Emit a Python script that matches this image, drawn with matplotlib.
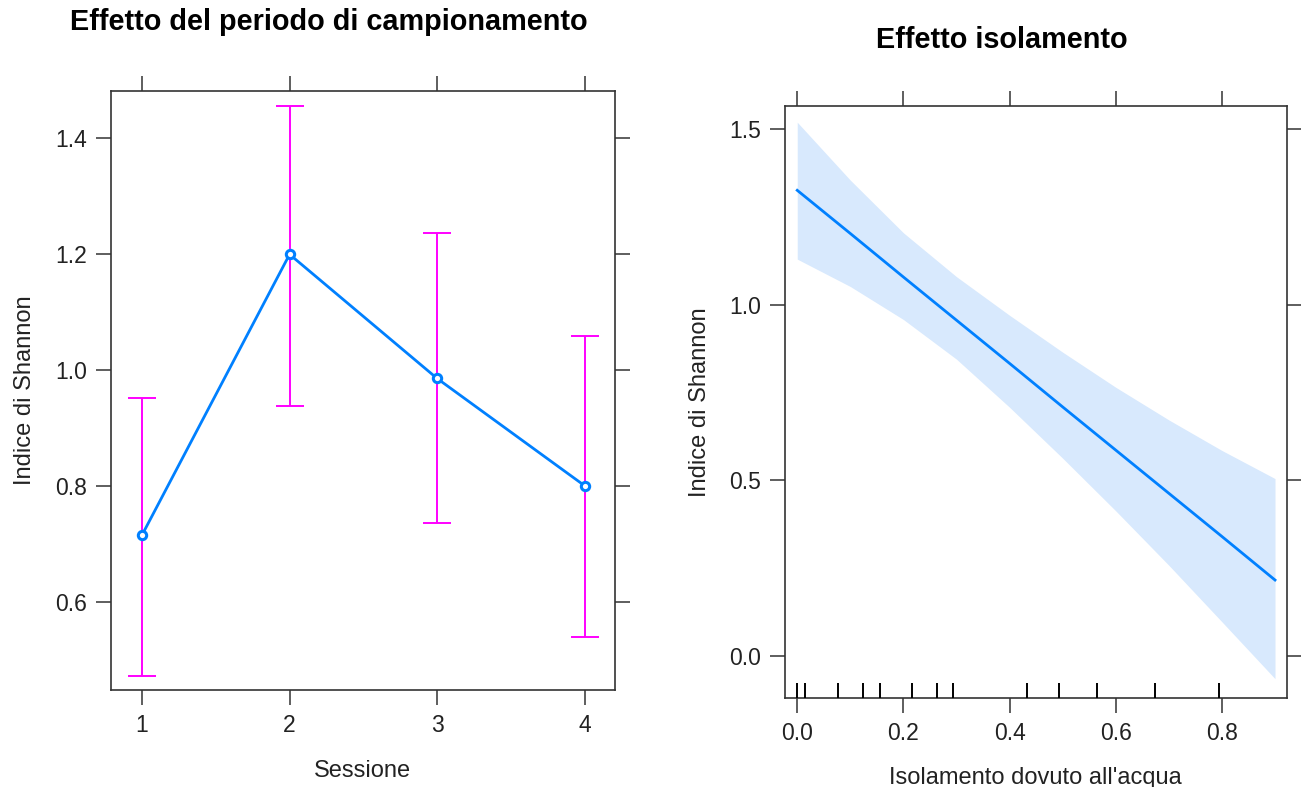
import numpy as np
import matplotlib
matplotlib.use("Agg")
import matplotlib.pyplot as plt

plt.rcParams['font.family'] = ['Liberation Sans', 'DejaVu Sans']

# left panel: effect of sampling session
sessione = [1, 2, 3, 4]
shannon_fit = [0.716, 1.200, 0.986, 0.801]
shannon_lo = [0.473, 0.938, 0.736, 0.541]
shannon_hi = [0.953, 1.455, 1.236, 1.059]

# right panel: effect of isolation
isol_x = [0.0, 0.1, 0.2, 0.3, 0.4, 0.5, 0.6, 0.7, 0.8, 0.9]
isol_fit = [1.326, 1.203, 1.079, 0.956, 0.833, 0.709, 0.586, 0.463, 0.340, 0.216]
isol_hi = [1.520, 1.355, 1.205, 1.080, 0.970, 0.865, 0.765, 0.672, 0.585, 0.505]
isol_lo = [1.130, 1.052, 0.958, 0.845, 0.708, 0.563, 0.413, 0.258, 0.097, -0.065]
rug_x = [0.0, 0.015, 0.077, 0.124, 0.155, 0.216, 0.264, 0.294,
         0.432, 0.493, 0.564, 0.674, 0.794]

BLUE = '#0080ff'
MAGENTA = '#ff00ff'
BAND = '#d8e9fd'
FRAME = '#333333'
TXT = '#222222'
FS = 16.5

fig = plt.figure(figsize=(13.01, 7.87), dpi=100)
ax1 = fig.add_axes([0.0851, 0.1233, 0.3876, 0.7606])
ax2 = fig.add_axes([0.6034, 0.1131, 0.3856, 0.7526])


def lattice_axes(ax):
    for s in ax.spines.values():
        s.set_color(FRAME)
        s.set_linewidth(1.2)
    ax.tick_params(axis='both', which='both', direction='out', length=11,
                   width=1.1, color=FRAME, labelsize=FS, labelcolor=TXT,
                   top=True, right=True, labeltop=False, labelright=False, pad=6)


# --- left panel
yerr = [np.array(shannon_fit) - np.array(shannon_lo),
        np.array(shannon_hi) - np.array(shannon_fit)]
ax1.errorbar(sessione, shannon_fit, yerr=yerr, fmt='none', ecolor=MAGENTA,
             elinewidth=1.4, capsize=10, capthick=1.4, zorder=2)
ax1.plot(sessione, shannon_fit, color=BLUE, lw=2.0, marker='o', ms=6,
         mfc='white', mec=BLUE, mew=2.2, zorder=3)
ax1.set_xlim(0.788, 4.205)
ax1.set_ylim(0.449, 1.481)
ax1.set_xticks(sessione)
ax1.set_yticks([0.6, 0.8, 1.0, 1.2, 1.4])
ax1.set_yticklabels(['0.6', '0.8', '1.0', '1.2', '1.4'])
ax1.set_xlabel('Sessione', fontsize=FS + 0.5, color=TXT, labelpad=17)
ax1.set_ylabel('Indice di Shannon', fontsize=FS + 0.5, color=TXT, labelpad=14)
lattice_axes(ax1)

# --- right panel
ax2.fill_between(isol_x, isol_lo, isol_hi, color=BAND, lw=0, zorder=1)
ax2.plot(isol_x, isol_fit, color=BLUE, lw=2.0, zorder=3)
ax2.vlines(rug_x, 0, 0.026, transform=ax2.get_xaxis_transform(),
           color='black', lw=1.4, zorder=4)
ax2.set_xlim(-0.023, 0.922)
ax2.set_ylim(-0.12, 1.567)
ax2.set_xticks([0.0, 0.2, 0.4, 0.6, 0.8])
ax2.set_xticklabels(['0.0', '0.2', '0.4', '0.6', '0.8'])
ax2.set_yticks([0.0, 0.5, 1.0, 1.5])
ax2.set_yticklabels(['0.0', '0.5', '1.0', '1.5'])
ax2.set_xlabel("Isolamento dovuto all'acqua", fontsize=FS + 0.5, color=TXT, labelpad=16)
ax2.set_ylabel('Indice di Shannon', fontsize=FS + 0.5, color=TXT, labelpad=13)
lattice_axes(ax2)

fig.text(329 / 1301, 1 - 22 / 787, 'Effetto del periodo di campionamento',
         ha='center', va='center', fontsize=20.8, fontweight='bold')
fig.text(1002 / 1301, 1 - 40 / 787, 'Effetto isolamento',
         ha='center', va='center', fontsize=20.8, fontweight='bold')

fig.savefig('out.png', dpi=100)
